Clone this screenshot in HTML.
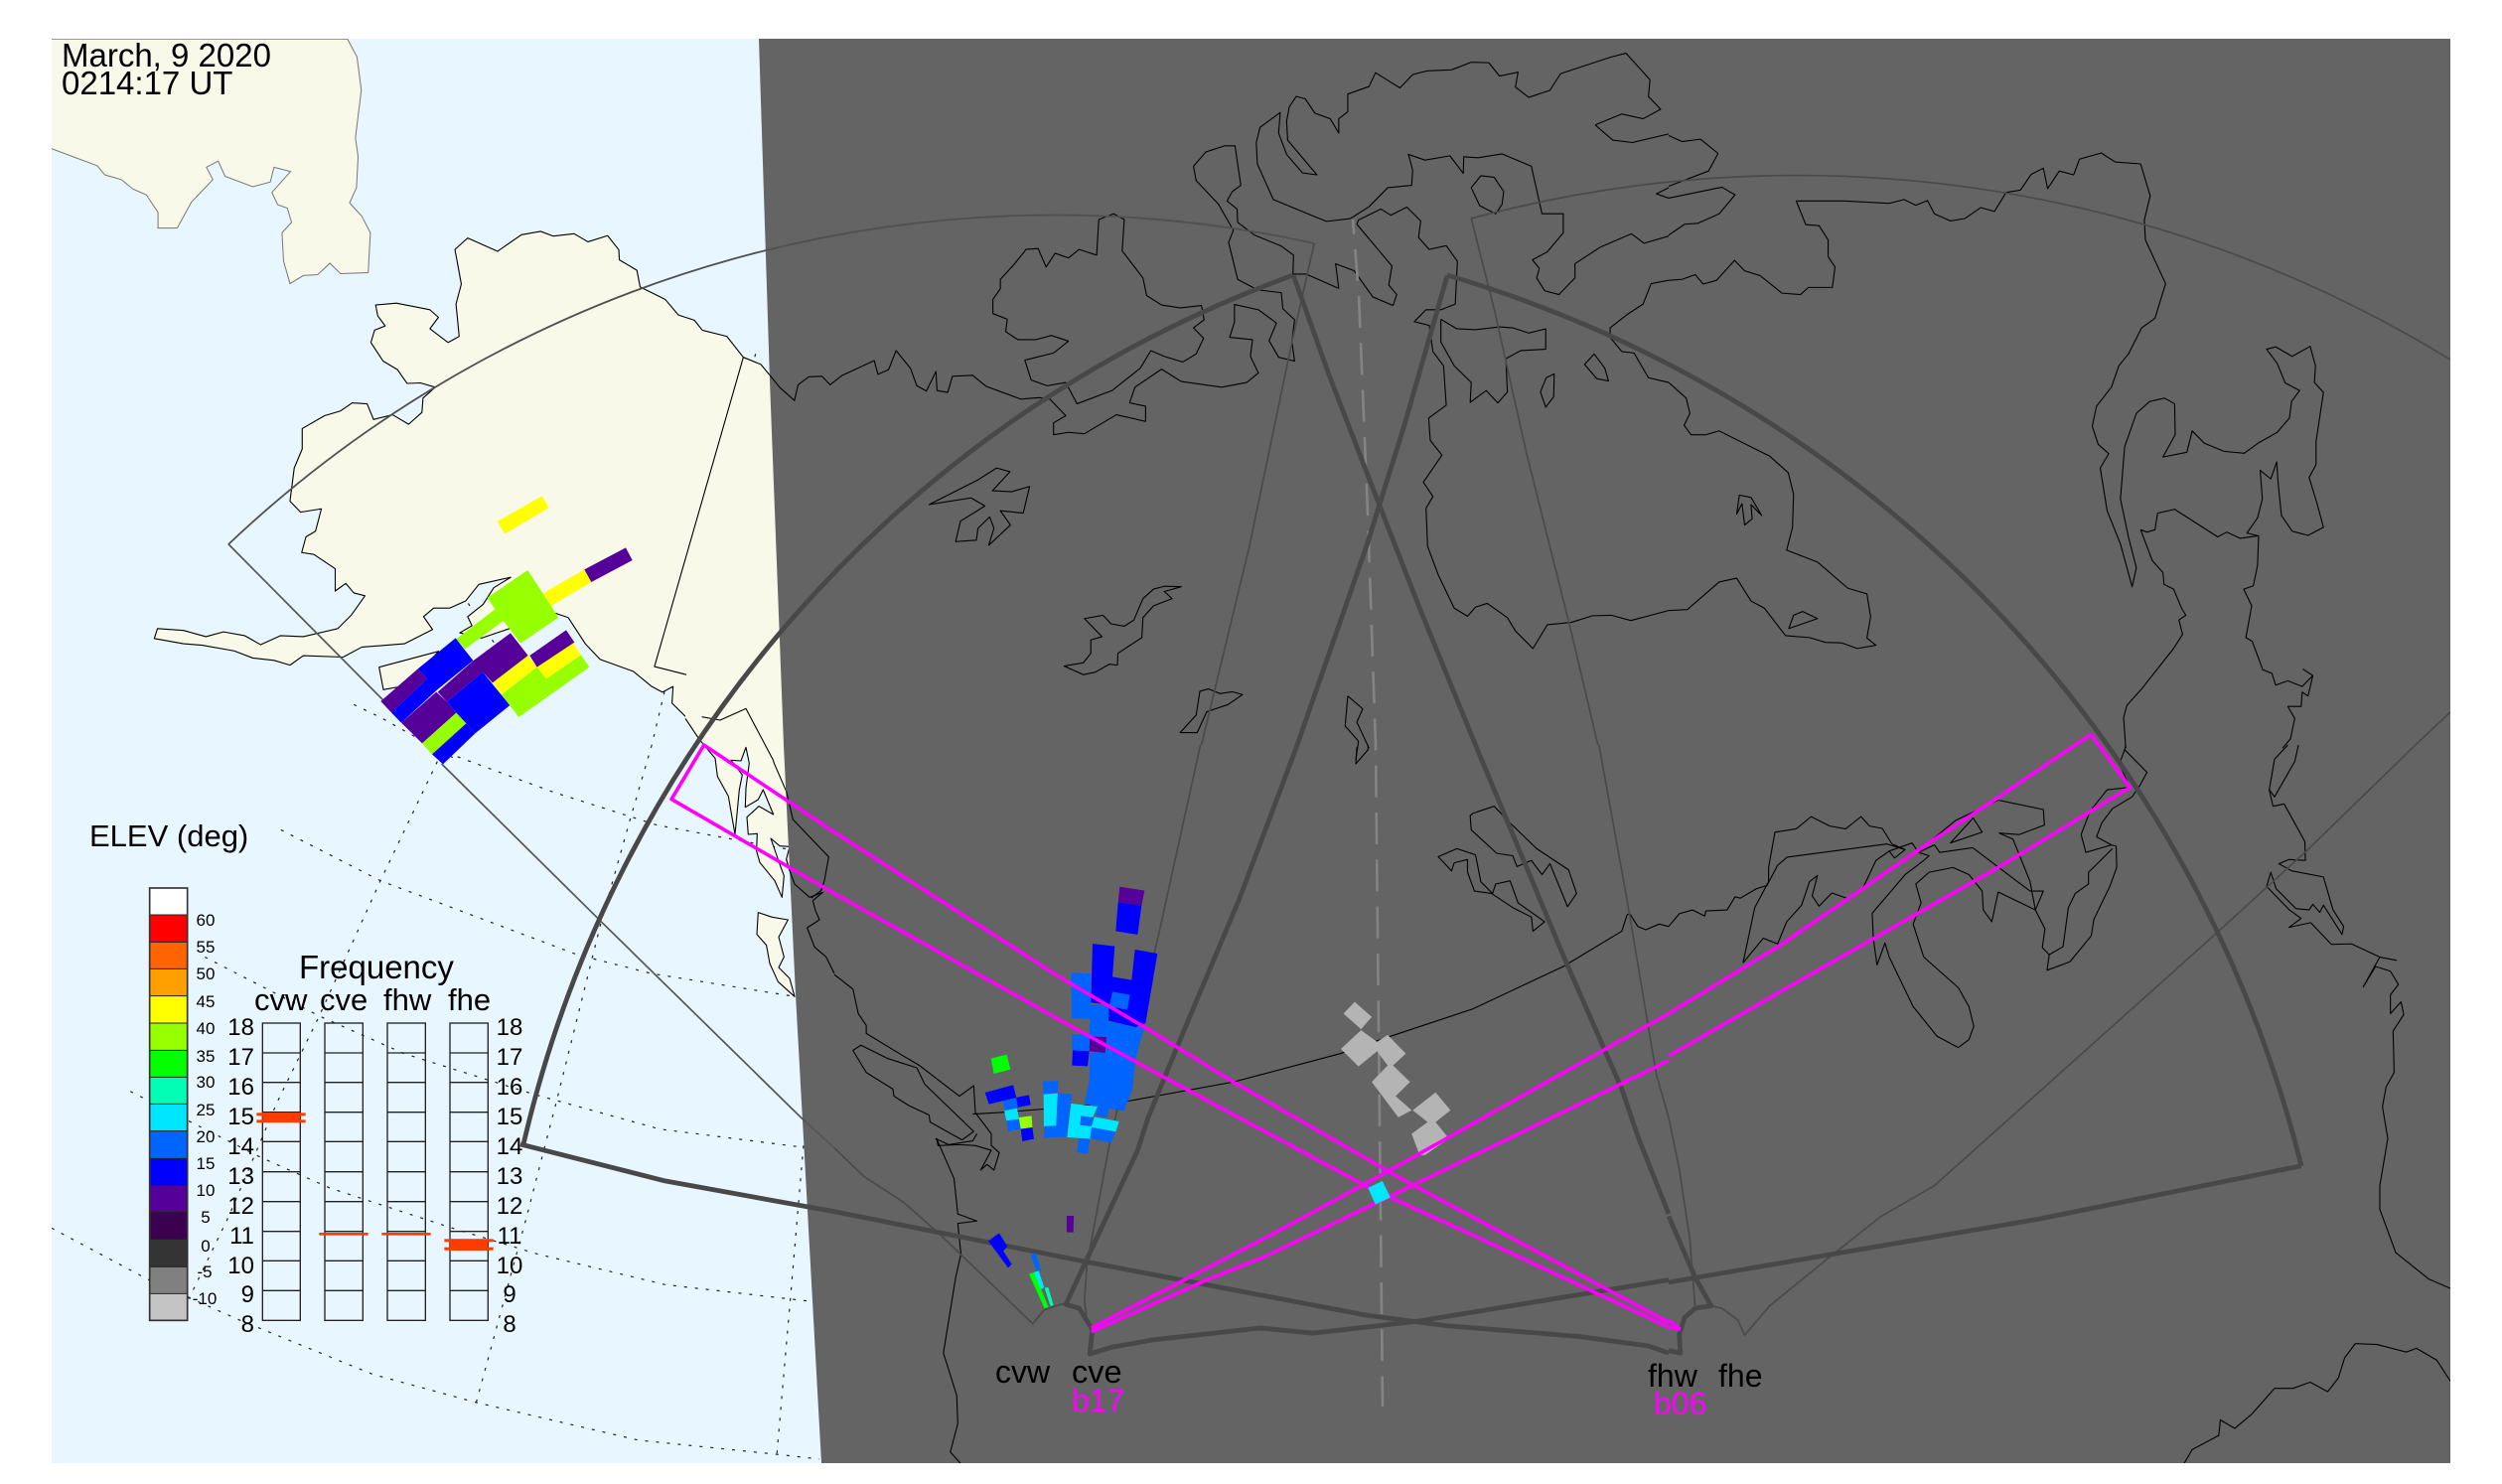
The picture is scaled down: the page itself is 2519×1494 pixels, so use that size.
<!DOCTYPE html>
<html><head><meta charset="utf-8"><style>
html,body{margin:0;padding:0;background:#fff}
svg{display:block}
.c{fill:none;stroke:#000;stroke-width:1.1;vector-effect:non-scaling-stroke;stroke-linejoin:round}
.t{fill:none;stroke:#4a4a4a;stroke-width:1.7;vector-effect:non-scaling-stroke}
.k{fill:none;stroke:#484848;stroke-width:4.8;vector-effect:non-scaling-stroke;stroke-linejoin:round}
.m{fill:none;stroke:#f0f;stroke-width:3.6;vector-effect:non-scaling-stroke;stroke-linejoin:round}
.d{fill:none;stroke:#222;stroke-width:1.2;stroke-dasharray:3 8;vector-effect:non-scaling-stroke}
.l{fill:#f8f9e9;stroke:#000;stroke-width:1.1;vector-effect:non-scaling-stroke;stroke-linejoin:round}
text{font-family:"Liberation Sans",sans-serif;fill:#000}
</style></head><body>
<svg width="2519" height="1494" viewBox="0 0 2519 1494" xmlns="http://www.w3.org/2000/svg">
<defs><clipPath id="p"><rect x="52" y="39" width="2415" height="1434"/></clipPath></defs>
<rect width="2519" height="1494" fill="#fff"/>
<g clip-path="url(#p)">
<rect x="52" y="39" width="2415" height="1434" fill="#e8f6ff"/>
<!-- graticule -->
<g transform="translate(0,0) scale(.5357,.4783)">
<polyline class="d" points="665,1483 715,1510 795,1560 860,1600"/>
<polyline class="d" points="1420,745 1250,1450 1225,1568"/>
<polyline class="d" points="928,1352 880,1270"/>
</g>
<g transform="translate(0,750) scale(.5357,.4745)">
<polyline class="d" points="860,25 1040,100 1235,170 1400,205 1500,225"/>
<polyline class="d" points="528,180 715,288 1085,445 1225,485 1490,533"/>
<polyline class="d" points="385,450 600,575 760,655 1000,740 1240,815 1505,853"/>
<polyline class="d" points="245,735 490,875 620,940 850,1025 1010,1080 1250,1145 1520,1180"/>
<polyline class="d" points="97,1025 280,1135 450,1220 700,1335 895,1395 1200,1475 1460,1505 1540,1515"/>
<polyline class="d" points="1225,0 1185,155 1130,375 1045,760 990,1000 895,1395"/>
<polyline class="d" points="822,35 715,288 600,575 520,760 430,1000 355,1175"/>
<polyline class="d" points="1510,850 1485,1180 1460,1505"/>
</g>
<!-- land -->
<g transform="scale(.5357,.4783)">
<polygon fill="#f8f9e9" stroke="#777" stroke-width="1" vector-effect="non-scaling-stroke" points="90,310 183,349 197,368 228,378 250,398 275,410 297,447 297,480 333,480 360,425 400,378 388,352 410,339 423,371 475,393 508,383 515,352 546,361 511,405 522,431 540,438 548,468 530,490 533,550 545,597 570,580 597,578 620,554 640,576 692,574 696,490 680,455 657,427 670,395 673,330 668,290 679,190 671,120 653,82 90,82"/>
<polygon class="l" points="855,525 879,501 935,529 980,494 1016,487 1040,497 1079,492 1105,509 1142,496 1163,526 1164,547 1197,569 1203,604 1250,630 1275,663 1305,674 1320,695 1366,708 1397,752 1430,767 1447,790 1700,790 1700,1568 1323,1568 1290,1510 1263,1480 1265,1445 1245,1457 1225,1445 1190,1413 1128,1388 1100,1355 1068,1300 1042,1290 955,1324 905,1343 864,1332 887,1317 879,1298 908,1272 928,1237 960,1215 900,1230 875,1265 845,1280 815,1280 796,1298 813,1325 760,1355 680,1362 645,1383 570,1380 545,1400 515,1390 475,1385 440,1370 380,1358 345,1355 290,1344 296,1323 345,1327 387,1340 420,1330 460,1338 490,1357 527,1338 570,1340 635,1323 660,1295 686,1254 665,1248 650,1228 630,1244 630,1197 590,1167 567,1163 575,1130 593,1118 604,1071 565,1078 545,1055 553,985 568,945 568,902 610,875 640,865 662,848 690,850 702,883 738,873 768,893 793,868 795,838 818,815 790,806 765,807 747,778 720,760 697,721 704,695 724,686 710,665 706,642 745,638 808,652 824,668 808,692 842,721 863,708 857,640 867,598"/>
</g>
<g transform="translate(370,490) scale(.33333)">
<polygon class="l" points="35,545 215,497 120,600 48,613"/>
</g>
<g transform="translate(690,680) scale(.33333)">
<polygon fill="#f8f9e9" points="0,130 40,190 60,215 90,250 97,305 130,365 150,480 163,345 172,300 138,256 168,258 183,217 193,265 183,340 181,398 220,375 235,345 266,420 222,395 186,428 190,480 217,478 215,530 225,565 270,620 292,670 298,605 285,570 258,492 285,515 315,517 305,555 320,600 450,600 450,0 0,0"/>
<polyline class="c" points="0,130 40,190 60,215 90,250 97,305 130,365 150,480 163,345 172,300 138,256 168,258 183,217 193,265 183,340 181,398 220,375 235,345 266,420 222,395 186,428 190,480 217,478 215,530 225,565 270,620 292,670 298,605 285,570 258,492 285,515 315,517 305,555 315,590"/>
<polygon class="l" points="220,716 262,730 310,738 282,790 298,850 282,882 315,915 330,970 280,925 255,870 245,815 216,782"/>
<polyline class="c" points="50,125 105,135 183,100 265,255 268,265 305,350"/>
</g>
<g transform="scale(.5357,.4783)">
<polyline class="c" points="1397,752 1230,1403 1290,1420"/>
</g>
</g>
<!-- night side -->
<polygon points="764,39 775,383 789,750 801,1001 827,1473 2467,1473 2467,39" fill="#646464"/>
<g clip-path="url(#p)">
<g transform="translate(690,680) scale(.33333)">
<polyline class="c" points="305,555 315,590 330,630 375,670 415,655 385,680 393,710 405,738 368,762 390,820 425,850 450,900"/>
<polyline class="c" points="305,350 325,435 433,548 420,620 410,650 380,672"/>
</g>
<g transform="scale(.5357,.4783)">
<polyline class="c" points="1447,790 1465,815 1493,843 1500,810 1520,793 1545,792 1560,810 1568,803"/>
</g>
<g transform="translate(840,0) scale(.5357,.4783)">
<polyline class="c" points="0,803 15,790 75,759 82,788 102,778 116,738 143,775 155,812 173,823 191,782 193,822 213,826 222,792 260,790 285,813 350,840 385,837 405,840 435,875 412,890 412,915 440,910 470,913 530,873 585,887 585,855 555,848 565,815 615,777 652,803 728,815 775,805 797,785 782,750 786,715 743,710 752,678 752,641 797,652 831,680 817,717 835,752 865,760 860,720 865,673 843,650 840,616 795,610 758,588 741,510 750,485 722,430 680,380 675,350 698,320 733,307 753,307 764,390 748,403 738,423 757,440 758,468 790,495 840,518 863,537 862,577 887,577 948,607 942,555 977,570 1012,625 1050,643 1057,620 1042,600 1048,560 982,472 985,463 1027,440 1046,453 1076,436 1102,465 1098,500 1118,525 1150,517 1171,550 1167,640 1140,652 1112,652 1090,677 1118,685 1125,740 1145,770 1150,853 1117,880 1120,927 1142,958 1107,1015 1125,1045 1112,1070 1115,1150 1135,1210 1165,1280 1190,1297 1205,1278 1227,1270 1265,1300 1280,1328 1313,1365 1340,1315 1385,1310 1425,1296 1460,1295 1497,1306 1568,1285"/>
<polyline class="c" points="1140,672 1170,692 1205,694 1250,688 1275,690 1305,701 1337,692 1337,735 1290,738 1262,755 1265,825 1247,848 1225,822 1195,847 1197,805 1165,770 1140,720 1140,672"/>
<polyline class="c" points="1568,590 1535,597 1520,640 1490,662 1458,690 1458,710 1480,740 1503,743 1530,795 1568,805"/>
<polyline class="c" points="357,530 360,525 383,523 398,562 415,533 440,543 460,525 493,537 497,462 525,450 545,462 541,528 580,585 587,622 615,642 650,648 690,643 695,673 675,690 694,712 680,745 655,762 620,750 595,738 575,775 522,822 456,850 435,805 400,812 370,800 358,758 412,743 440,718 408,706 378,715 345,715 322,698 325,672 298,660 298,630 312,608 312,588 335,560 357,530"/>
<polyline class="c" points="1430,263 1480,240 1520,250 1553,230 1530,203 1533,168 1488,112 1460,120 1365,155 1345,190 1305,205 1280,183 1285,152 1250,160 1230,132 1197,131 1160,147 1115,149 1087,157 1063,185 1017,153 1005,182 965,198 965,235 948,250 948,280 932,250 903,238 885,208 868,203 855,225 850,255 852,295 907,368 880,364 850,325 835,280 838,237 800,268 793,300 795,345 825,420 890,450 925,466 970,460 1005,435 1040,395 1085,390 1087,358 1079,325 1110,337 1157,328 1182,365 1183,330 1210,332 1255,324 1310,350 1330,450 1370,450 1370,490 1340,530 1312,547 1325,565 1320,585 1335,612 1362,620 1392,585 1392,555 1440,520 1498,492 1522,512 1568,497"/>
<polyline class="c" points="1430,263 1463,295 1500,300 1568,282"/>
<polyline class="c" points="1568,395 1545,408 1568,417"/>
<polygon class="c" points="1197,395 1215,370 1240,373 1258,403 1255,430 1243,450 1213,433"/>
<polygon class="c" points="1410,767 1428,745 1448,775 1455,802 1433,797"/>
<polygon class="c" points="1327,825 1338,795 1353,787 1352,835 1337,857"/>
<polygon class="c" points="178,1062 270,1010 305,985 330,993 297,1033 333,1035 367,1024 355,1080 312,1075 331,1105 290,1148 300,1112 292,1088 270,1112 267,1137 228,1140 237,1097 283,1065 257,1048"/>
<polygon class="c" points="432,1402 468,1395 482,1375 482,1347 503,1340 470,1302 505,1295 520,1313 545,1318 563,1305 580,1260 600,1240 620,1234 652,1235 620,1245 635,1260 600,1275 580,1300 578,1342 533,1375 532,1400 517,1398 490,1415 468,1420"/>
<polygon class="c" points="650,1542 680,1505 687,1455 703,1450 725,1460 748,1456 767,1462 740,1483 700,1498 682,1542"/>
<polyline class="c" points="965,1465 993,1492 982,1520 1005,1575"/>
<polyline class="c" points="965,1465 960,1528 985,1560 980,1600"/>
</g>
<g transform="translate(1680,0) scale(.5351,.4783)">
<polyline class="c" points="0,1285 35,1283 95,1225 128,1217 155,1265 180,1280 220,1338 265,1342 295,1352 325,1353 355,1365 390,1358 373,1343 380,1298 373,1250 337,1238 280,1183 222,1158 233,1110 235,1040 225,995 190,960 95,907 70,915 42,915 29,895 40,870 33,838 0,805"/>
<polyline class="c" points="0,590 25,588 50,578 65,598 90,590 124,548 143,570 172,580 213,617 248,620 263,605 308,605 313,562 300,540 300,505 283,475 258,473 240,423 330,423 415,428 443,420 465,432 487,422 500,450 530,465 557,460 587,437 613,445 635,405 662,400 682,367 705,354 713,397 735,360 762,368 773,335 814,322 840,341 888,345 906,412 895,463 897,505 935,597 915,670 890,690 865,745 847,770 833,815 805,855 797,897 808,935 828,955 812,985 825,1075 850,1145 872,1235 880,1195 865,1130 850,1050 858,940 880,870 905,845 933,838 952,850 953,915 930,962 975,952 985,907 1008,933 1045,950 1083,954 1110,932 1145,910 1168,880 1172,845 1187,822 1160,806 1145,765 1125,735 1142,730 1173,750 1207,729 1217,770 1215,805 1232,826 1218,930 1218,978 1205,1005 1220,1060 1232,1110 1203,1127 1173,1118 1153,1085 1147,1020 1144,972 1133,1008 1113,990 1117,1050 1108,1090 1088,1122 1110,1128 1108,1190 1100,1233 1082,1240 1097,1275 1086,1342 1098,1350 1118,1410 1135,1417 1142,1442 1165,1433 1192,1445 1212,1422 1193,1408"/>
<polyline class="c" points="1212,1422 1203,1465 1192,1457 1190,1487 1165,1487 1178,1512 1170,1555 1155,1575"/>
<polyline class="c" points="888,1115 900,1120 915,1115 920,1080 952,1072 1033,1130 1050,1120 1075,1133 1108,1128"/>
<polyline class="c" points="888,1115 910,1180 930,1205 932,1230 950,1240 965,1280 973,1295 960,1305 967,1335 950,1365 890,1450 862,1485 856,1510 860,1575"/>
<polyline class="c" points="0,285 25,298 60,293 93,323 75,360 0,392"/>
<polyline class="c" points="0,417 100,394 125,410 95,450 55,470 30,472 0,495"/>
<polygon class="c" points="133,1042 155,1047 175,1085 155,1062 157,1092 143,1105 138,1060 128,1082"/>
<polygon class="c" points="226,1323 235,1295 252,1287 280,1302"/>
</g>
<g transform="translate(840,750) scale(.5357,.4745)">
<polyline class="c" points="0,487 35,518 45,570 60,595 60,612 130,660 160,680 235,745 262,723 265,780 295,825 295,850 310,865 300,902 287,890 275,902 295,860 265,850 235,848 195,850 192,835 225,920 232,995 268,1010 232,1015 238,1080 228,1130 205,1290 230,1380 232,1440 218,1500 237,1524"/>
<polygon class="c" points="35,648 50,637 100,665 155,685 170,720 262,820 240,838 180,800 178,785 140,765 112,745 110,730 60,695"/>
<polyline class="c" points="190,835 215,848 260,840 268,825"/>
<polyline class="c" points="1003,0 1003,10 980,40 982,5"/>
<polygon class="c" points="1195,150 1200,145 1240,130 1265,160 1320,220 1380,265 1395,315 1378,343 1345,252 1330,275 1310,245 1283,258 1275,235 1245,230 1197,180"/>
<polygon class="c" points="1135,237 1170,220 1205,233 1215,290 1237,315 1243,295 1270,288 1285,335 1335,375 1313,395 1310,365 1275,345 1235,315 1203,310 1190,270 1190,243 1165,250 1160,267"/>
<polyline class="c" points="260,783 310,780 420,770 555,755 750,715 950,655 1040,620 1200,560 1370,470 1480,395 1490,360 1495,358 1510,385 1525,392 1550,380 1568,385"/>
</g>
<g transform="translate(1680,750) scale(.5351,.4745)">
<polyline class="c" points="0,385 20,358 45,350 68,363 70,352 110,350 125,322 135,325 165,305 185,298 205,255 223,238 410,210 445,222"/>
<polyline class="c" points="140,462 162,345 188,290 188,260 200,185 240,178 268,152 303,172 333,178 362,152 378,172 402,177 420,210 445,222 425,240 415,225 390,245 367,300"/>
<polyline class="c" points="140,462 178,410 205,422 222,375 250,340 265,290 280,277 270,320 283,342 307,314 335,325"/>
<polyline class="c" points="415,225 458,208 470,228 490,235 480,245 445,275 383,357 385,410 392,467 407,420 415,450 460,555 505,618 545,642 565,625 574,597 565,555 545,515 480,450 460,380 475,335 465,295 490,270 535,260 565,275 590,310 592,350 608,375 620,312 690,350"/>
<polyline class="c" points="470,228 500,212 510,228 572,218 680,310 705,310 690,350 708,390 703,430 716,445 742,428 752,345 765,315 790,295 790,270 835,220"/>
<polygon class="c" points="530,208 590,185 573,155"/>
<polyline class="c" points="480,215 540,160 620,117 705,137 707,170 660,190 622,187 648,200 680,290 690,350"/>
<polyline class="c" points="860,0 858,10 900,58 887,85 872,110 835,135 815,165 805,195 833,212 785,228 776,190 793,140 825,95 868,90 848,40 858,10"/>
<polyline class="c" points="833,212 842,215 843,260 830,300 800,370 795,405 755,460 712,478 716,445"/>
<polyline class="c" points="1185,0 1178,35 1140,110 1130,95 1140,30 1165,0"/>
<polyline class="c" points="1130,95 1137,130 1158,125 1197,205 1198,245 1167,243 1148,252 1172,267 1232,280 1250,350 1270,385 1267,402 1232,340 1225,355 1212,338 1205,350 1180,347 1143,305 1133,270 1125,300 1168,350 1190,368 1167,387 1208,377 1247,423 1285,422 1338,450 1307,513 1330,470 1358,480 1373,508 1358,530 1358,570 1378,545 1383,572 1363,607 1365,695 1350,725 1343,767 1353,835 1338,935 1338,985 1368,1077 1430,1133 1471,1153"/>
<polyline class="c" points="1338,450 1370,457"/>
<polyline class="c" points="970,1524 985,1495 1035,1465 1038,1432 1065,1450 1097,1420 1140,1365 1175,1365 1207,1352 1240,1372 1260,1343 1272,1300 1292,1270 1333,1272 1388,1288 1407,1280 1445,1305 1471,1350"/>
</g>
<!-- dashed centre line -->
<polyline points="1362,221 1368,297 1377,517 1385,750 1392,1416" fill="none" stroke="#848484" stroke-width="2.6" stroke-dasharray="32 15.3" stroke-dashoffset="17.3"/>
<!-- thin FOVs -->
<path d="M230,548 A1210,1210 0 0 1 1323,245" fill="none" stroke="#505050" stroke-width="1.8"/>
<path d="M1481,220 A1260,1260 0 0 1 2467,362" fill="none" stroke="#4a4a4a" stroke-width="1.7"/>
<g transform="scale(.5357,.4783)">
<polyline class="t" points="429,1145 770,1530 830,1600" style="stroke:#555"/>
</g>
<g transform="translate(0,750) scale(.5357,.4745)">
<polyline class="t" points="830,40 1130,375 1505,790 1568,855" style="stroke:#555"/>
</g>
<g transform="translate(840,0) scale(.5357,.4783)">
<polyline class="t" points="902,512 860,720 780,1150 690,1568"/>
<polyline class="t" points="1197,460 1240,650 1300,950 1385,1330 1435,1568"/>
</g>
<g transform="translate(840,750) scale(.5357,.4745)">
<polyline class="t" points="688,0 610,400 520,830 475,1100 470,1180 475,1225"/>
<polyline class="t" points="0,855 55,915 130,970 200,1040 373,1228 395,1198 425,1187 437,1185"/>
<polyline class="t" points="1437,0 1490,330 1545,700 1568,790"/>
</g>
<g transform="translate(1680,750) scale(.5351,.4745)">
<polyline class="t" points="1471,-70 1405,0 1200,225 1030,400 500,935 400,1000 310,1080 190,1190 143,1252 130,1220 100,1195 80,1190 50,1195 35,1205"/>
<polyline class="t" points="0,790 20,900 40,1050 50,1195"/>
</g>
<!-- thick FOVs -->
<path d="M527,1152 A1225,1225 0 0 1 1302,277" fill="none" stroke="#484848" stroke-width="4.8" stroke-linejoin="round"/>
<path d="M1457,277 A1250,1250 0 0 1 2317,1174" fill="none" stroke="#484848" stroke-width="4.8" stroke-linejoin="round"/>
<g transform="translate(0,750) scale(.5357,.4745)">
<polyline class="k" points="978,847 1250,925 1568,990"/>
</g>
<g transform="translate(840,0) scale(.5357,.4783)">
<polyline class="k" points="863,580 930,790 1025,1065 1100,1280 1205,1568"/>
<polyline class="k" points="870,1568 1000,1150 1070,900 1152,580"/>
</g>
<g transform="translate(840,750) scale(.5357,.4745)">
<polyline class="k" points="1205,0 1375,460 1480,730 1510,830 1568,995"/>
<polyline class="k" points="0,990 480,1098 1000,1210 1150,1232 1400,1255 1530,1275 1568,1290"/>
<polyline class="k" points="870,0 760,330 650,625 590,790 570,860 435,1187 460,1195 485,1240 480,1292 520,1278 600,1262 800,1237 900,1248 1100,1222 1568,1135"/>
</g>
<g transform="translate(1680,750) scale(.5351,.4745)">
<polyline class="k" points="0,1000 50,1130 80,1190 50,1195 30,1215 20,1250 22,1290 0,1285"/>
<polyline class="k" points="0,1140 320,1078 700,1005 1190,893"/>
</g>
<!-- Alaska echoes -->
<g transform="translate(370,490) scale(.33333)">
<polygon fill="#ffff00" points="392,105 527,28 548,63 414,143"/>
<polygon fill="#ffff00" points="530,322 655,250 676,288 555,360"/>
<polygon fill="#550099" points="655,250 780,184 800,222 676,288"/>
<polygon fill="#96ff00" points="362,335 484,252 577,395 462,473 430,430 410,405 295,490 268,460 385,370"/>
<polygon fill="#550099" points="40,648 152,550 180,580 72,682"/>
<polygon fill="#0000ff" points="152,550 266,457 319,525 212,612 102,713 72,682 180,580"/>
<polygon fill="#550099" points="212,620 320,525 432,442 485,510 378,592 348,560 240,650"/>
<polygon fill="#550099" points="102,713 208,620 240,650 268,683 165,775 135,745"/>
<polygon fill="#0000ff" points="240,650 348,560 430,660 325,745 298,715 268,683"/>
<polygon fill="#96ff00" points="165,775 268,683 298,715 195,808"/>
<polygon fill="#0000ff" points="195,808 298,715 325,745 228,838"/>
<polygon fill="#ffff00" points="378,592 485,510 512,545 405,628"/>
<polygon fill="#96ff00" points="405,628 512,545 540,580 645,508 670,545 457,696"/>
<polygon fill="#ffff00" points="512,545 620,470 645,508 540,580"/>
<polygon fill="#550099" points="490,510 600,433 625,470 512,545"/>
</g>
<!-- main echoes -->
<g transform="translate(960,880) scale(.33333)">
<polygon fill="#0064ff" points="355,298 415,300 415,395 470,395 468,445 575,465 550,560 540,650 515,715 470,708 463,735 430,730 435,700 395,695 410,625 412,540 460,540 462,490 410,490 412,438 357,435"/>
<polygon fill="#0000ff" points="420,210 487,218 480,310 538,320 548,228 616,240 580,450 550,462 468,443 470,395 415,388"/>
<polygon fill="#0064ff" points="480,355 533,365 525,410 470,400"/>
<polygon fill="#550099" points="502,38 577,50 568,95 497,85"/>
<polygon fill="#0000ff" points="497,85 568,95 556,183 490,172"/>
<polygon fill="#0064ff" points="358,485 412,485 410,535 358,532"/>
<polygon fill="#0000ff" points="360,532 410,535 405,580 358,578"/>
<polygon fill="#550099" points="412,490 462,492 458,540 410,535"/>
<polygon fill="#00ff00" points="113,557 161,545 172,590 122,603"/>
<polygon fill="#0000ff" points="95,660 180,637 190,675 107,695"/>
<polygon fill="#0000ff" points="188,675 228,667 233,697 192,705"/>
<polygon fill="#0064ff" points="148,685 190,677 195,710 155,712"/>
<polygon fill="#00e6ff" points="153,715 192,707 198,740 160,745"/>
<polygon fill="#0064ff" points="160,745 198,740 203,770 165,778"/>
<polygon fill="#96ff00" points="197,735 236,730 238,765 203,770"/>
<polygon fill="#0000ff" points="203,770 238,765 243,800 208,807"/>
<polygon fill="#0064ff" points="270,625 317,625 315,660 272,665"/>
<polygon fill="#00e6ff" points="272,665 315,662 310,760 273,762"/>
<polygon fill="#0064ff" points="275,762 345,758 343,793 273,797"/>
<polygon fill="#0064ff" points="315,660 358,665 345,758 310,760"/>
<polygon fill="#00e6ff" points="355,693 435,702 420,735 415,800 343,795"/>
<polygon fill="#0064ff" points="385,730 425,735 415,762 382,758"/>
<polygon fill="#0064ff" points="378,798 412,800 405,846 373,840"/>
<polygon fill="#00e6ff" points="425,733 500,747 490,778 417,765"/>
<polygon fill="#0064ff" points="417,765 490,778 475,812 412,798"/>
</g>
<g transform="translate(960,1200) scale(.33333)">
<polygon fill="#0000ff" points="105,148 138,124 163,165 150,178 176,218 165,229 125,175"/>
<polygon fill="#0064ff" points="233,190 248,184 264,235 250,239"/>
<polygon fill="#00e6ff" points="241,243 257,238 274,288 263,295"/>
<polygon fill="#00ff00" points="228,248 243,243 287,348 275,352"/>
<polygon fill="#00ffb4" points="275,290 286,288 302,342 293,345"/>
<polygon fill="#550099" points="342,72 363,72 362,122 342,122"/>
</g>
<g transform="translate(840,750) scale(.5357,.4745)">
<polygon fill="#b4b4b4" points="957,570 978,545 1010,577 990,603"/>
<polygon fill="#b4b4b4" points="952,645 990,605 1020,630 1040,615 1074,655 1050,680 1082,715 1055,745 1085,775 1060,790 1010,715 1040,680 1020,650 985,682"/>
<polygon fill="#b4b4b4" points="1087,775 1130,737 1158,775 1130,800 1155,835 1110,870 1100,870 1085,825 1115,800"/>
</g>
<!-- beams -->
<g transform="translate(840,750) scale(.5357,.4745)">
<polyline class="m" points="483,1237 820,1040 1040,905 1568,570"/>
<polyline class="m" points="483,1245 700,1135 810,1085 1040,960 1568,670"/>
<polyline class="m" points="0,185 420,490 585,600 750,715 1050,910 1090,935 1568,1225"/>
<polyline class="m" points="0,315 450,600 620,705 1003,938 1200,1040 1568,1235"/>
<polygon fill="#00e6ff" points="1003,940 1030,925 1045,960 1017,975"/>
</g>
<g transform="translate(0,750) scale(.5357,.4745)">
<polyline class="m" points="1568,185 1323,0 1262,115 1568,315"/>
</g>
<g transform="translate(1680,750) scale(.5351,.4745)">
<polyline class="m" points="0,570 210,425 365,305 480,215 615,115 765,0 795,-22 868,90 620,260 200,530 0,660"/>
<polyline class="m" points="0,1220 22,1240"/>
<polyline class="m" points="0,1235 22,1240"/>
</g>
</g>
<!-- colour bar -->
<g transform="translate(130,880) scale(.33333)">
<rect x="62" y="42" width="114" height="81" fill="#fff"/>
<rect x="62" y="123" width="114" height="82" fill="#ff0000"/>
<rect x="62" y="205" width="114" height="81" fill="#ff6400"/>
<rect x="62" y="286" width="114" height="82" fill="#ffa000"/>
<rect x="62" y="368" width="114" height="82" fill="#ffff00"/>
<rect x="62" y="450" width="114" height="82" fill="#96ff00"/>
<rect x="62" y="532" width="114" height="81" fill="#00ff00"/>
<rect x="62" y="613" width="114" height="81" fill="#00ffb4"/>
<rect x="62" y="694" width="114" height="82" fill="#00e6ff"/>
<rect x="62" y="776" width="114" height="83" fill="#0064ff"/>
<rect x="62" y="859" width="114" height="81" fill="#0000ff"/>
<rect x="62" y="940" width="114" height="81" fill="#550099"/>
<rect x="62" y="1021" width="114" height="82" fill="#3c0050"/>
<rect x="62" y="1103" width="114" height="83" fill="#343434"/>
<rect x="62" y="1186" width="114" height="81" fill="#808080"/>
<rect x="62" y="1267" width="114" height="81" fill="#c4c4c4"/>
<g fill="none" stroke="#222" stroke-width="3">
<path d="M62 123H176M62 205H176M62 286H176M62 368H176M62 450H176M62 532H176M62 613H176M62 694H176M62 776H176M62 859H176M62 940H176M62 1021H176M62 1103H176M62 1186H176M62 1267H176"/>
</g>
<rect x="62" y="42" width="114" height="1306" fill="none" stroke="#333" stroke-width="5"/>
<!-- frequency boxes -->
<g fill="none" stroke="#222" stroke-width="4">
<rect x="403" y="450" width="114" height="898"/><rect x="591" y="450" width="115" height="898"/><rect x="780" y="450" width="115" height="898"/><rect x="969" y="450" width="115" height="898"/>
<path d="M403 540H517M403 629H517M403 719H517M403 808H517M403 899H517M403 989H517M403 1079H517M403 1168H517M403 1258H517"/>
<path d="M591 540H706M591 629H706M591 719H706M591 808H706M591 899H706M591 989H706M591 1079H706M591 1168H706M591 1258H706"/>
<path d="M780 540H895M780 629H895M780 719H895M780 808H895M780 899H895M780 989H895M780 1079H895M780 1168H895M780 1258H895"/>
<path d="M969 540H1084M969 629H1084M969 719H1084M969 808H1084M969 899H1084M969 989H1084M969 1079H1084M969 1168H1084M969 1258H1084"/>
</g>
<g fill="#ff3c00">
<rect x="403" y="721" width="114" height="29"/><rect x="385" y="721" width="148" height="9"/><rect x="385" y="742" width="148" height="9"/>
<rect x="574" y="1083" width="148" height="8"/><rect x="763" y="1083" width="148" height="8"/>
<rect x="969" y="1102" width="115" height="35"/><rect x="952" y="1102" width="148" height="9"/><rect x="952" y="1127" width="148" height="9"/>
</g>
</g>
<g font-size="17" text-anchor="middle">
<text x="207" y="932">60</text><text x="207" y="959">55</text><text x="207" y="986">50</text><text x="207" y="1014">45</text><text x="207" y="1041">40</text><text x="207" y="1069">35</text><text x="207" y="1095">30</text><text x="207" y="1123">25</text><text x="207" y="1150">20</text><text x="207" y="1177">15</text><text x="207" y="1204">10</text><text x="207" y="1231">5</text><text x="207" y="1260">0</text><text x="206" y="1286">-5</text><text x="206" y="1313">-10</text>
</g>
<g font-size="24" text-anchor="end">
<text x="256" y="1042">18</text><text x="256" y="1072">17</text><text x="256" y="1102">16</text><text x="256" y="1132">15</text><text x="256" y="1162">14</text><text x="256" y="1192">13</text><text x="256" y="1222">12</text><text x="256" y="1252">11</text><text x="256" y="1282">10</text><text x="256" y="1311">9</text><text x="256" y="1341">8</text>
</g>
<g font-size="24" text-anchor="middle">
<text x="513" y="1042">18</text><text x="513" y="1072">17</text><text x="513" y="1102">16</text><text x="513" y="1132">15</text><text x="513" y="1162">14</text><text x="513" y="1192">13</text><text x="513" y="1222">12</text><text x="513" y="1252">11</text><text x="513" y="1282">10</text><text x="513" y="1311">9</text><text x="513" y="1341">8</text>
</g>
<text x="62" y="67" font-size="33">March, 9 2020</text>
<text x="62" y="95" font-size="33">0214:17 UT</text>
<text x="90" y="852" font-size="31">ELEV (deg)</text>
<text x="301" y="985" font-size="33">Frequency</text>
<text x="256" y="1017" font-size="31">cvw</text>
<text x="322" y="1017" font-size="31">cve</text>
<text x="386" y="1017" font-size="31">fhw</text>
<text x="451" y="1017" font-size="31">fhe</text>
<text x="1002" y="1392" font-size="32">cvw</text>
<text x="1079" y="1392" font-size="32.5">cve</text>
<text x="1079" y="1421" font-size="32" style="fill:#f0f">b17</text>
<text x="1659" y="1396" font-size="32">fhw</text>
<text x="1730" y="1396" font-size="32">fhe</text>
<text x="1665" y="1424" font-size="32" style="fill:#f0f">b06</text>
</svg>
</body></html>
